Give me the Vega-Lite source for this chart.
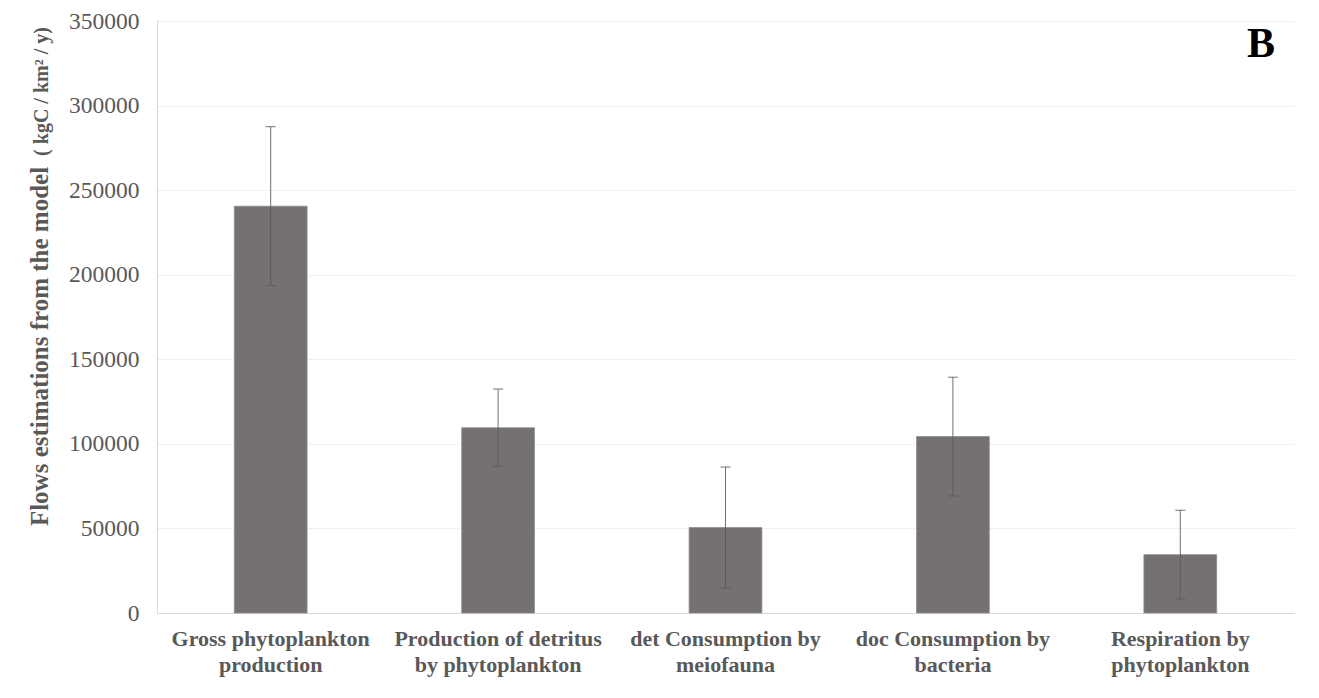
{
  "$schema": "https://vega.github.io/schema/vega-lite/v6.json",
  "width": 1137,
  "height": 592,
  "autosize": {"type": "none"},
  "padding": {"left": 157, "top": 21, "right": 25, "bottom": 85},
  "background": "white",
  "config": {"font": "Liberation Serif", "view": {"stroke": null}},
  "title": {"text": "B", "anchor": "end", "frame": "group", "orient": "top", "font": "Liberation Serif", "fontSize": 42, "fontWeight": "bold", "color": "#000000", "baseline": "alphabetic", "offset": 0, "dy": 90, "dx": -19},
  "data": {
    "values": [
      {"flow": "Gross phytoplankton|production", "value": 240500, "lo": 193500, "hi": 287500},
      {"flow": "Production of detritus|by phytoplankton", "value": 109500, "lo": 86700, "hi": 132400},
      {"flow": "det Consumption by|meiofauna", "value": 50500, "lo": 14800, "hi": 86300},
      {"flow": "doc Consumption by|bacteria", "value": 104300, "lo": 69200, "hi": 139400},
      {"flow": "Respiration by|phytoplankton", "value": 34500, "lo": 8300, "hi": 60700}
    ]
  },
  "encoding": {
    "x": {
      "field": "flow", "type": "nominal", "sort": null,
      "scale": {"paddingInner": 0.68, "paddingOuter": 0.34},
      "axis": {"title": null, "labelAngle": 0, "labelExpr": "split(datum.label, '|')", "labelLimit": 0, "labelFont": "Liberation Serif", "labelFontSize": 22, "labelFontWeight": "bold", "labelColor": "#595959", "labelLineHeight": 26, "labelPadding": 15, "ticks": false, "domainColor": "#d9d9d9", "domainWidth": 1, "labelBaseline": "top"}
    }
  },
  "layer": [
    {
      "mark": {"type": "bar", "color": "#767171", "stroke": "#8f8b8b", "strokeWidth": 0.8},
      "encoding": {
        "y": {"field": "value", "type": "quantitative", "scale": {"domain": [0, 350000]},
          "axis": {"orient": "left", "values": [0, 50000, 100000, 150000, 200000, 250000, 300000, 350000], "format": "d", "title": "Flows estimations from the model", "titleFont": "Liberation Serif", "titleFontSize": 25, "titleFontWeight": "bold", "titleColor": "#595959", "titleX": -110, "titleY": 325, "titleBaseline": "alphabetic", "titleAlign": "center", "titleAngle": -90, "labelFont": "Liberation Serif", "labelFontSize": 23.5, "labelColor": "#595959", "labelPadding": 18, "ticks": false, "domainColor": "#d9d9d9", "grid": true, "gridColor": "#e3e3e3", "gridDash": [2, 2]}}
      }
    },
    {
      "mark": {"type": "rule", "color": "#595959", "strokeWidth": 1, "opacity": 0.85},
      "encoding": {
        "y": {"field": "lo", "type": "quantitative", "scale": {"domain": [0, 350000]},
          "axis": {"orient": "left", "labels": false, "ticks": false, "domain": false, "grid": false, "title": "( kgC / km² / y)", "titleFont": "Liberation Serif", "titleFontSize": 20, "titleFontWeight": "bold", "titleColor": "#595959", "titleX": -110, "titleY": 70, "titleBaseline": "alphabetic", "titleAlign": "center", "titleAngle": -90}},
        "y2": {"field": "hi"}
      }
    },
    {
      "mark": {"type": "tick", "color": "#595959", "size": 10, "thickness": 1, "opacity": 0.85, "orient": "horizontal"},
      "encoding": {"y": {"field": "lo", "type": "quantitative", "scale": {"domain": [0, 350000]}, "axis": null}}
    },
    {
      "mark": {"type": "tick", "color": "#595959", "size": 10, "thickness": 1, "opacity": 0.85, "orient": "horizontal"},
      "encoding": {"y": {"field": "hi", "type": "quantitative", "scale": {"domain": [0, 350000]}, "axis": null}}
    }
  ],
  "resolve": {"scale": {"y": "independent"}}
}
